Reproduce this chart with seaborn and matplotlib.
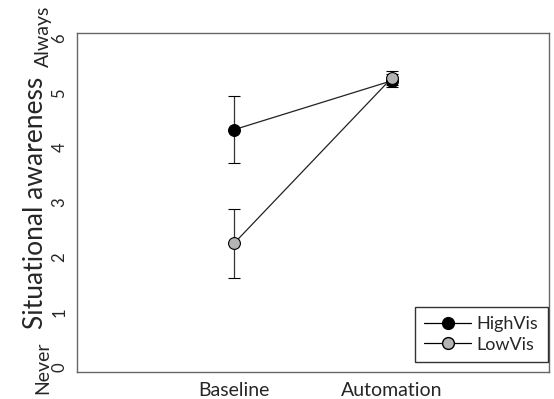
import numpy as np
import pandas as pd
import matplotlib.pyplot as plt
import seaborn as sns

sns.set_style('white')
plt.rcParams['font.family'] = ['Lato', 'DejaVu Sans']

conditions = ['Baseline', 'Automation']
groups = ['HighVis', 'LowVis']
high_mean = [4.33, 5.22]
high_err = [0.61, 0.12]
low_mean = [2.26, 5.27]
low_err = [0.63, 0.12]

df = pd.DataFrame({
    'condition': conditions * 2,
    'group': ['HighVis'] * 2 + ['LowVis'] * 2,
    'mean': high_mean + low_mean,
    'err': high_err + low_err,
})

fig = plt.figure(figsize=(5.54, 3.99), dpi=100)
ax = fig.add_axes([0.139, 0.068, 0.852, 0.849])

colors = {'HighVis': 'black', 'LowVis': '#b4b4b4'}

# error bars first, so markers sit on top
for g in groups:
    sub = df[df['group'] == g]
    ax.errorbar(np.arange(len(conditions)), sub['mean'], yerr=sub['err'],
                fmt='none', ecolor='#333333', elinewidth=0.9, capsize=4,
                capthick=0.9, zorder=2)

sns.pointplot(data=df, x='condition', y='mean', hue='group', order=conditions,
              hue_order=groups, palette=colors, errorbar=None, ax=ax,
              markers='o', linestyles='-', linewidth=0.9, markersize=8.5,
              legend=False, zorder=3)
for line in ax.lines:
    line.set_color('#222222')
    line.set_markeredgecolor('black')
    line.set_markeredgewidth(0.8)
for line, g in zip([l for l in ax.lines if l.get_marker() == 'o'], groups):
    line.set_markerfacecolor(colors[g])

ax.set_xlim(-1, 2)
ax.set_ylim(-0.09, 6.09)
ax.set_yticks(range(7))
ax.set_yticklabels([str(i) for i in range(7)], rotation=90, va='center', fontsize=12)
ax.set_xticks([0, 1])
ax.set_xticklabels(conditions, fontsize=14)
ax.set_xlabel('')
ax.set_ylabel('Situational awareness', fontsize=19)
ax.yaxis.set_label_coords(-0.061, 0.5)
ax.tick_params(axis='both', direction='out', length=4, width=0.8, color='#555555', pad=3)

for s in ax.spines.values():
    s.set_color('#666666')
    s.set_linewidth(1.0)

ax.text(-0.072, 0.012, 'Never', transform=ax.transAxes, rotation=90,
        ha='center', va='center', fontsize=14)
ax.text(-0.072, 0.99, 'Always', transform=ax.transAxes, rotation=90,
        ha='center', va='center', fontsize=14)

handles = [plt.Line2D([], [], color='black', lw=0.9, marker='o', markersize=8.5,
                      markerfacecolor=colors[g], markeredgecolor='black')
           for g in groups]
leg = ax.legend(handles, groups, loc='lower right', fontsize=13, frameon=True,
                fancybox=False, edgecolor='black', handlelength=2.6,
                handletextpad=0.3, borderpad=0.5, labelspacing=0.25,
                borderaxespad=0.0, bbox_to_anchor=(0.997, 0.03))
leg.get_frame().set_linewidth(1.0)

plt.savefig('out.png', dpi=100)
